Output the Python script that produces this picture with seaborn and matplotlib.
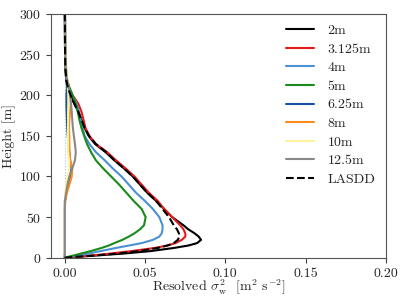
import numpy as np
import pandas as pd
import matplotlib
matplotlib.use("Agg")
import matplotlib.pyplot as plt
import seaborn as sns

# Heights [m] shared by every profile
heights = [0, 1, 2.5, 5, 8, 12, 15, 18, 22, 26, 30, 35, 40, 50, 60, 70, 80,
           90, 100, 110, 120, 130, 140, 150, 160, 170, 180, 190, 200, 210,
           220, 235, 260, 300]

# Resolved sigma_w^2 profiles
sw_2m = [0, 0.007, 0.018, 0.036, 0.053, 0.068, 0.077, 0.0825, 0.085, 0.0835,
         0.081, 0.077, 0.074, 0.067, 0.062, 0.057, 0.0515, 0.047, 0.0425,
         0.037, 0.031, 0.0255, 0.019, 0.015, 0.0125, 0.0105, 0.0085, 0.006,
         0.0038, 0.002, 0.001, 0.0005, 0.0003, 0.0002]
sw_3125m = [0, 0.006, 0.016, 0.028, 0.041, 0.056, 0.064, 0.069, 0.073, 0.0752,
            0.0752, 0.074, 0.072, 0.067, 0.062, 0.058, 0.0525, 0.048, 0.0435,
            0.038, 0.032, 0.0265, 0.0195, 0.0155, 0.013, 0.0118, 0.0105,
            0.0085, 0.005, 0.0025, 0.0012, 0.0006, 0.0004, 0.0003]
sw_4m = [0, 0.003, 0.008, 0.0145, 0.022, 0.032, 0.040, 0.048, 0.055, 0.059,
         0.0605, 0.061, 0.061, 0.059, 0.055, 0.050, 0.0445, 0.040, 0.0355,
         0.030, 0.025, 0.0195, 0.0155, 0.0125, 0.0112, 0.010, 0.009, 0.0075,
         0.005, 0.0025, 0.0012, 0.0006, 0.0004, 0.0003]
sw_5m = [0, 0.002, 0.005, 0.010, 0.016, 0.023, 0.0275, 0.031, 0.036, 0.040,
         0.0435, 0.047, 0.0495, 0.0505, 0.048, 0.043, 0.0385, 0.034, 0.029,
         0.024, 0.0195, 0.0165, 0.014, 0.0122, 0.0105, 0.0092, 0.0082, 0.007,
         0.005, 0.003, 0.0015, 0.0008, 0.0005, 0.0003]
sw_625m = [0, 0.0001, 0.0001, 0.0002, 0.0002, 0.0002, 0.0002, 0.0002, 0.0002,
           0.0002, 0.0002, 0.0002, 0.0002, 0.0002, 0.0002, 0.0003, 0.0008,
           0.002, 0.0035, 0.0042, 0.0035, 0.003, 0.0025, 0.002, 0.0017,
           0.0015, 0.0013, 0.0012, 0.0012, 0.0015, 0.0012, 0.0006, 0.0003,
           0.0002]
sw_8m = [0, 0.0001, 0.0001, 0.0002, 0.0002, 0.0002, 0.0002, 0.0002, 0.0002,
         0.0002, 0.0002, 0.0002, 0.0002, 0.0002, 0.0002, 0.0005, 0.0015, 0.003,
         0.0045, 0.0048, 0.0035, 0.003, 0.003, 0.003, 0.0028, 0.003, 0.0035,
         0.0038, 0.0035, 0.0025, 0.0015, 0.0007, 0.0004, 0.0002]
sw_10m = [0, 0.0001, 0.0001, 0.0002, 0.0002, 0.0002, 0.0002, 0.0002, 0.0002,
          0.0002, 0.0002, 0.0002, 0.0002, 0.0002, 0.0002, 0.0002, 0.0004,
          0.001, 0.002, 0.003, 0.0028, 0.0022, 0.0022, 0.0022, 0.0022, 0.0022,
          0.0022, 0.0025, 0.0025, 0.002, 0.0018, 0.0012, 0.0005, 0.0003]
sw_125m = [0, 0.0001, 0.0001, 0.0002, 0.0002, 0.0002, 0.0002, 0.0002, 0.0002,
           0.0002, 0.0002, 0.0002, 0.0002, 0.0002, 0.0002, 0.0002, 0.001,
           0.0018, 0.003, 0.0048, 0.0065, 0.007, 0.0065, 0.0058, 0.0052,
           0.0048, 0.0045, 0.004, 0.0035, 0.0025, 0.0015, 0.0008, 0.0004,
           0.0003]
sw_lasdd = [0, 0.006, 0.017, 0.032, 0.046, 0.058, 0.064, 0.068, 0.0705, 0.0715,
            0.0712, 0.070, 0.068, 0.065, 0.061, 0.057, 0.0515, 0.047, 0.0425,
            0.037, 0.031, 0.026, 0.0195, 0.0152, 0.0125, 0.0105, 0.0085, 0.006,
            0.0038, 0.002, 0.001, 0.0005, 0.0003, 0.0002]

labels = ["2m", "3.125m", "4m", "5m", "6.25m", "8m", "10m", "12.5m", "LASDD"]
profiles = [sw_2m, sw_3125m, sw_4m, sw_5m, sw_625m, sw_8m, sw_10m, sw_125m,
            sw_lasdd]
colors = ["black", "#e41a1c", "#4a90d2", "#1a8a1a", "#1a4fa3", "#ff8c1a",
          "#fff3a0", "#888888", "black"]
styles = ["-"] * 8 + ["--"]

sns.set_style("ticks")
plt.rcParams["font.family"] = "serif"
plt.rcParams["font.serif"] = ["cmr10", "DejaVu Serif"]
plt.rcParams["mathtext.fontset"] = "cm"
plt.rcParams["axes.unicode_minus"] = False
plt.rcParams["axes.formatter.use_mathtext"] = True

fig = plt.figure(figsize=(4.07, 3.05), dpi=100)
ax = fig.add_axes([0.125, 0.155, 0.823, 0.799])

ax.axvline(0, color="#9ecae1", linestyle=":", linewidth=0.8)

for lab, prof, col, ls in zip(labels, profiles, colors, styles):
    df = pd.DataFrame({"sw": prof, "z": heights})
    sns.lineplot(data=df, x="sw", y="z", orient="y", color=col, linestyle=ls,
                 linewidth=1.5, label=lab, ax=ax)

ax.set_xlim(-0.0085, 0.2)
ax.set_ylim(0, 300)
ax.set_xticks([0, 0.05, 0.10, 0.15, 0.20])
ax.set_xticklabels(["0.00", "0.05", "0.10", "0.15", "0.20"])
ax.set_yticks([0, 50, 100, 150, 200, 250, 300])
ax.tick_params(labelsize=10, length=3.5, color="#444444")
for sp in ax.spines.values():
    sp.set_color("#555555")

ax.set_xlabel(r"Resolved $\sigma_\mathrm{w}^2$  [m$^2$ s$^{-2}$]", fontsize=10,
              labelpad=-1)
ax.set_ylabel("Height [m]", fontsize=10, labelpad=2)

ax.legend(loc="upper right", bbox_to_anchor=(1.0, 1.0), frameon=False,
          fontsize=10, handlelength=2.0, handletextpad=1.0,
          labelspacing=0.42, borderaxespad=0.35)

plt.savefig("out.png", dpi=100)
